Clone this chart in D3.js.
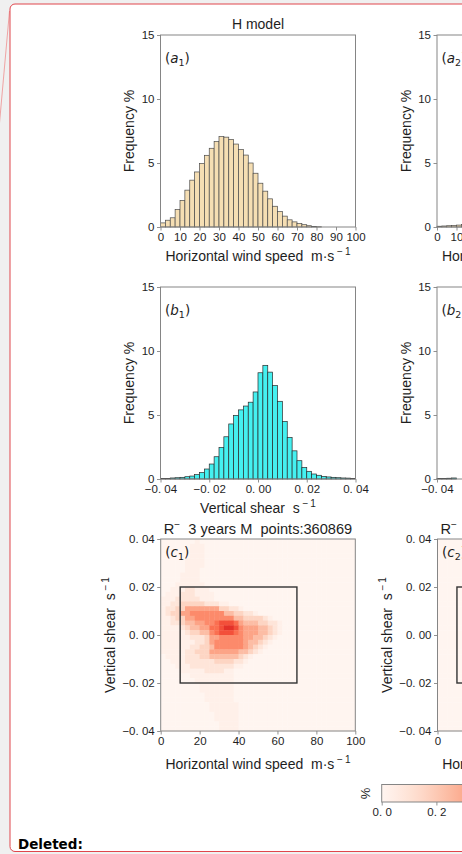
<!DOCTYPE html>
<html>
<head>
<meta charset="utf-8">
<script src="https://cdn.jsdelivr.net/npm/d3@7"></script>
<style>
  html, body { margin: 0; padding: 0; background: #f0f0f0; overflow: hidden; }
  svg { display: block; }
  text { white-space: pre; }
</style>
</head>
<body>
<svg id="fig" width="462" height="854"></svg>
<script>
// ---------- data ----------
// Horizontal wind speed histogram, H model (bins of 2.5 m/s from 0 to 100), frequency %
const windBinWidth = 2.5;
const windFreqH = [0.32, 0.53, 0.72, 1.36, 2.08, 2.88, 3.66, 4.30, 4.96, 5.60,
                   6.15, 6.67, 7.06, 7.02, 6.84, 6.48, 6.05, 5.62, 5.00, 4.20,
                   3.42, 2.80, 2.20, 1.62, 1.20, 0.85, 0.56, 0.40, 0.27, 0.18,
                   0.10, 0.05, 0.02, 0, 0, 0, 0, 0, 0, 0];
// Vertical shear histogram, H model (bins of 0.002 s^-1 from -0.04 to 0.04), frequency %
const shearBinWidth = 0.002;
const shearFreqH = [0.05, 0.05, 0.08, 0.10, 0.13, 0.18, 0.23, 0.34, 0.50, 0.78,
                    1.17, 1.74, 2.47, 3.30, 4.30, 4.97, 5.40, 5.70, 6.00, 6.80,
                    8.30, 8.88, 8.35, 7.30, 6.07, 4.50, 3.25, 2.20, 1.43, 0.90,
                    0.60, 0.39, 0.29, 0.20, 0.16, 0.13, 0.10, 0.08, 0.07, 0.05];
// Second model column (first bins only)
const windFreqRight = [0.06, 0.08, 0.10, 0.12, 0.15, 0.20];
const shearFreqRight = [0.04, 0.05, 0.06, 0.08];

// Joint density (wind x shear); rows run from shear 0.04 down to -0.04,
// columns from wind 0 upward; each digit indexes densityLevels (% per cell).
const densityLevels = [0, 0.03, 0.09, 0.16, 0.24, 0.32, 0.40, 0.48, 0.57, 0.66];
const densityRows = [
  "0000000100", "0000001110", "0000001110", "0000001110", "0000011110",
  "0000011110", "000001110", "00001111", "00001111", "000111111",
  "0011122111", "01112221111", "11122222111", "11223333322211",
  "12233555555533221", "12335566666664433221", "11233556666666644333321",
  "1122344556678887544433221", "1111234455778998655544321",
  "1111123344678887655544321", "111111222355666665544321",
  "11111112235666666544321", "1111112233466666654321",
  "111112233355555544321", "0111122233444444321", "001112222223333221",
  "00011122222222211", "000011111222211", "000000111111111",
  "000000011111111", "000000001111111", "000000001111111",
  "000000000111111", "000000000111111", "0000000000111111",
  "0000000000111111", "00000000000111110", "00000000000111110",
  "0000000000001111", "0000000000001111"
];

// Tick labels
const windTicksA = [0, 10, 20, 30, 40, 50, 60, 70, 80, 90, 100];
const windTicksC = [0, 20, 40, 60, 80, 100];
const freqTicks = [0, 5, 10, 15];
const shearTicks = [-0.04, -0.02, 0, 0.02, 0.04];
const shearTickLabels = ["\u22120. 04", "\u22120. 02", "0. 00", "0. 02", "0. 04"];
const cbarTicks = [0, 0.2, 0.4, 0.6, 0.8, 1.0];
const cbarTickLabels = ["0. 0", "0. 2", "0. 4", "0. 6", "0. 8", "1. 0"];

// Box drawn on the joint density: wind 10-70, shear -0.02..0.02
const boxWind = [10, 70];
const boxShear = [-0.02, 0.02];

const titleH = "H model";
const titleC = "points:360869";

// ---------- styles ----------
const FONT = "'Liberation Sans', Arial, sans-serif";
const SPINE = "#858585";
const TXT = "#1e1e1e";

const svg = d3.select("#fig");

// page / balloon
svg.append("rect").attr("width", 462).attr("height", 854).attr("fill", "#f0f0f0");
svg.append("line").attr("x1", 9.5).attr("y1", 11).attr("x2", -0.5).attr("y2", 123)
  .attr("stroke", "#ef8f8f").attr("stroke-width", 0.8);
svg.append("rect").attr("x", 10).attr("y", 4).attr("width", 480).attr("height", 847.5)
  .attr("rx", 5).attr("fill", "#ffffff").attr("stroke", "#e0464c").attr("stroke-width", 1);
svg.append("text").attr("x", 18).attr("y", 849).text("Deleted:")
  .attr("font-family", "'DejaVu Sans', Verdana, sans-serif").attr("font-weight", "bold")
  .attr("font-size", 13.5).attr("fill", "#000");

// ---------- helpers ----------
function styleAxis(g) {
  g.select(".domain").remove();
  g.selectAll(".tick line").attr("stroke", SPINE).attr("stroke-width", 0.9);
  g.selectAll(".tick text").attr("fill", TXT).attr("font-family", FONT).attr("font-size", 11.5);
}

function frame(g, x0, x1, y0, y1) {
  g.append("rect").attr("x", x0).attr("y", y1).attr("width", x1 - x0).attr("height", y0 - y1)
    .attr("fill", "none").attr("stroke", SPINE).attr("stroke-width", 1);
}

function panelLabel(g, x, y, letter, sub) {
  const t = g.append("text").attr("x", x).attr("y", y)
    .attr("font-family", "'DejaVu Sans', sans-serif").attr("font-size", 13.5).attr("fill", TXT);
  t.append("tspan").text("(");
  t.append("tspan").attr("font-style", "italic").text(letter);
  t.append("tspan").attr("font-size", 9.5).attr("dy", 2.5).text(sub);
  t.append("tspan").attr("dy", -2.5).text(")");
}

function xLabelWithUnit(g, cx, y, main, unit) {
  const t = g.append("text").attr("x", cx).attr("y", y).attr("text-anchor", "middle")
    .attr("font-family", FONT).attr("font-size", 14).attr("fill", TXT);
  t.append("tspan").text(main + "  " + unit);
  t.append("tspan").attr("font-size", 10).attr("dy", -6).text(" \u2212\u20091");
  return t;
}

function yLabel(g, x, cy, main, unit) {
  const t = g.append("text").attr("transform", `translate(${x},${cy}) rotate(-90)`)
    .attr("text-anchor", "middle").attr("font-family", FONT).attr("font-size", 14).attr("fill", TXT);
  t.append("tspan").text(unit ? main + "  " + unit : main);
  if (unit) t.append("tspan").attr("font-size", 10).attr("dy", -6).text(" \u2212\u20091");
  return t;
}

// Histogram panel
function histPanel(opt) {
  const g = svg.append("g");
  const x = d3.scaleLinear().domain(opt.xDomain).range([opt.left, opt.right]);
  const y = d3.scaleLinear().domain([0, 15]).range([opt.bottom, opt.top]);
  const bins = opt.values.map((v, i) => ({ x0: opt.xDomain[0] + i * opt.binWidth, v }));
  g.selectAll("rect.bar").data(bins).enter().append("rect").attr("class", "bar")
    .attr("x", d => x(d.x0))
    .attr("y", d => y(d.v))
    .attr("width", d => x(d.x0 + opt.binWidth) - x(d.x0))
    .attr("height", d => y(0) - y(d.v))
    .attr("fill", opt.fill).attr("stroke", opt.edge).attr("stroke-width", 0.7);
  frame(g, opt.left, opt.right, opt.bottom, opt.top);
  const ax = g.append("g").attr("transform", `translate(0,${opt.bottom})`)
    .call(d3.axisBottom(x).tickValues(opt.xTicks).tickSize(3.5).tickPadding(2)
      .tickFormat((d, i) => opt.xTickLabels ? opt.xTickLabels[i] : d));
  styleAxis(ax);
  const ay = g.append("g").attr("transform", `translate(${opt.left},0)`)
    .call(d3.axisLeft(y).tickValues(freqTicks).tickSize(3.5).tickPadding(2.5));
  styleAxis(ay);
  yLabel(g, opt.left - 26.5, (opt.top + opt.bottom) / 2, "Frequency %");
  xLabelWithUnit(g, (opt.left + opt.right) / 2, opt.bottom + 33.5, opt.xTitle, opt.xUnit);
  panelLabel(g, opt.left + 4.5, opt.top + 28, opt.letter, opt.sub);
  return g;
}

// Joint density panel
function densityPanel(opt) {
  const g = svg.append("g");
  const x = d3.scaleLinear().domain([0, 100]).range([opt.left, opt.right]);
  const y = d3.scaleLinear().domain([-0.04, 0.04]).range([opt.bottom, opt.top]);
  const color = d3.scaleSequential(d3.interpolateReds).domain([0, 1]);
  const cells = [];
  for (let r = 0; r < 40; r++) {
    const row = (opt.rows[r] || "").padEnd(40, "0");
    for (let c = 0; c < 40; c++) {
      cells.push({ w: c * windBinWidth, s: 0.04 - r * shearBinWidth, v: densityLevels[+row[c]] });
    }
  }
  g.selectAll("rect.cell").data(cells).enter().append("rect").attr("class", "cell")
    .attr("x", d => x(d.w))
    .attr("y", d => y(d.s))
    .attr("width", d => x(d.w + windBinWidth) - x(d.w) + 0.4)
    .attr("height", d => y(d.s - shearBinWidth) - y(d.s) + 0.4)
    .attr("fill", d => color(d.v));
  g.append("rect").attr("x", x(boxWind[0])).attr("y", y(boxShear[1]))
    .attr("width", x(boxWind[1]) - x(boxWind[0])).attr("height", y(boxShear[0]) - y(boxShear[1]))
    .attr("fill", "none").attr("stroke", "#333").attr("stroke-width", 1.4);
  frame(g, opt.left, opt.right, opt.bottom, opt.top);
  const ax = g.append("g").attr("transform", `translate(0,${opt.bottom})`)
    .call(d3.axisBottom(x).tickValues(windTicksC).tickSize(3.5).tickPadding(2));
  styleAxis(ax);
  const ay = g.append("g").attr("transform", `translate(${opt.left},0)`)
    .call(d3.axisLeft(y).tickValues(shearTicks).tickSize(3.5).tickPadding(2.5)
      .tickFormat((d, i) => shearTickLabels[i]));
  styleAxis(ay);
  yLabel(g, opt.left - 46, (opt.top + opt.bottom) / 2, "Vertical shear", "s");
  xLabelWithUnit(g, (opt.left + opt.right) / 2, opt.bottom + 38, "Horizontal wind speed", "m\u00b7s");
  panelLabel(g, opt.left + 4.5, opt.top + 18, "c", opt.sub);
  // title
  const t = g.append("text").attr("x", (opt.left + opt.right) / 2).attr("y", opt.top - 5.5)
    .attr("text-anchor", "middle").attr("font-family", FONT).attr("font-size", 14.6).attr("fill", TXT);
  t.append("tspan").text("R");
  t.append("tspan").attr("font-size", 10).attr("dy", -6).text("\u2212");
  t.append("tspan").attr("dy", 6).text("  3 years M  " + titleC);
  return g;
}

// ---------- left column ----------
const L = { left: 160.5, right: 355.5 };
const gA = histPanel({
  left: L.left, right: L.right, top: 35, bottom: 227,
  xDomain: [0, 100], binWidth: windBinWidth, values: windFreqH,
  xTicks: windTicksA, fill: "#f5deb3", edge: "#4a4a4a",
  xTitle: "Horizontal wind speed", xUnit: "m\u00b7s", letter: "a", sub: "1"
});
gA.append("text").attr("x", (L.left + L.right) / 2).attr("y", 29).attr("text-anchor", "middle")
  .attr("font-family", FONT).attr("font-size", 14).attr("fill", TXT).text(titleH);

histPanel({
  left: L.left, right: L.right, top: 287, bottom: 479,
  xDomain: [-0.04, 0.04], binWidth: shearBinWidth, values: shearFreqH,
  xTicks: shearTicks, xTickLabels: shearTickLabels, fill: "#45f0f0", edge: "#2a2a2a",
  xTitle: "Vertical shear", xUnit: "s", letter: "b", sub: "1"
});

densityPanel({ left: 160.7, right: 355.3, top: 539, bottom: 731, rows: densityRows, sub: "1" });

// ---------- right column (second model) ----------
const R = { left: 437, right: 632 };
histPanel({
  left: R.left, right: R.right, top: 35, bottom: 227,
  xDomain: [0, 100], binWidth: windBinWidth, values: windFreqRight,
  xTicks: windTicksA, fill: "#f5deb3", edge: "#4a4a4a",
  xTitle: "Horizontal wind speed", xUnit: "m\u00b7s", letter: "a", sub: "2"
});
histPanel({
  left: R.left, right: R.right, top: 287, bottom: 479,
  xDomain: [-0.04, 0.04], binWidth: shearBinWidth, values: shearFreqRight,
  xTicks: shearTicks, xTickLabels: shearTickLabels, fill: "#45f0f0", edge: "#2a2a2a",
  xTitle: "Vertical shear", xUnit: "s", letter: "b", sub: "2"
});
densityPanel({ left: 437.5, right: 632, top: 539, bottom: 731, rows: [], sub: "2" });

// ---------- colour bar ----------
const cb = svg.append("g");
const cx = d3.scaleLinear().domain([0, 1]).range([381.7, 655.2]);
const defs = svg.append("defs");
const grad = defs.append("linearGradient").attr("id", "redsGrad");
d3.range(0, 1.0001, 0.05).forEach(t => {
  grad.append("stop").attr("offset", `${t * 100}%`).attr("stop-color", d3.interpolateReds(t));
});
cb.append("rect").attr("x", cx(0)).attr("y", 784.5).attr("width", cx(1) - cx(0)).attr("height", 17.5)
  .attr("fill", "url(#redsGrad)").attr("stroke", SPINE).attr("stroke-width", 1);
const cax = cb.append("g").attr("transform", "translate(0,802)")
  .call(d3.axisBottom(cx).tickValues(cbarTicks).tickSize(3.5).tickPadding(2)
    .tickFormat((d, i) => cbarTickLabels[i]));
styleAxis(cax);
cb.append("text").attr("transform", "translate(370,793.5) rotate(-90)").attr("text-anchor", "middle")
  .attr("font-family", FONT).attr("font-size", 13).attr("fill", TXT).text("%");
</script>
</body>
</html>
